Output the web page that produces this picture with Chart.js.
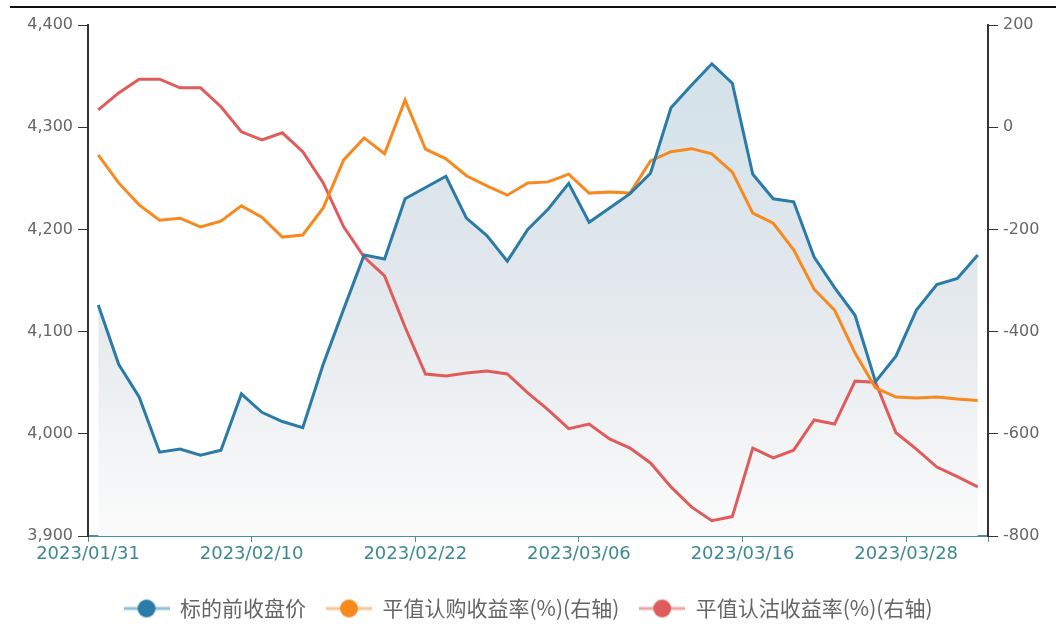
<!DOCTYPE html>
<html>
<head>
<meta charset="utf-8">
<script src="https://cdn.jsdelivr.net/npm/chart.js@4"></script>
<style>
    html, body { margin: 0; padding: 0; background: #fff; }
    #wrap { position: relative; width: 1056px; height: 641px; }
    #topline { position: absolute; left: 10px; right: 0; top: 6px; height: 2px; background: #111; }
    canvas { position: absolute; left: 0; top: 0; }
</style>
</head>
<body>
<div id="wrap">
    <canvas id="chart" width="1056" height="641"></canvas>
    <div id="topline"></div>
</div>
<script>
const dates = [
    '2023/01/31', '2023/02/01', '2023/02/02', '2023/02/03', '2023/02/06', '2023/02/07', '2023/02/08', '2023/02/09',
    '2023/02/10', '2023/02/13', '2023/02/14', '2023/02/15', '2023/02/16', '2023/02/17', '2023/02/20', '2023/02/21',
    '2023/02/22', '2023/02/23', '2023/02/24', '2023/02/27', '2023/02/28', '2023/03/01', '2023/03/02', '2023/03/03',
    '2023/03/06', '2023/03/07', '2023/03/08', '2023/03/09', '2023/03/10', '2023/03/13', '2023/03/14', '2023/03/15',
    '2023/03/16', '2023/03/17', '2023/03/20', '2023/03/21', '2023/03/22', '2023/03/23', '2023/03/24', '2023/03/27',
    '2023/03/28', '2023/03/29', '2023/03/30', '2023/03/31'
];
const xTickDates = ['2023/01/31', '2023/02/10', '2023/02/22', '2023/03/06', '2023/03/16', '2023/03/28'];

// 标的前收盘价 (left axis)
const closePrice = [4126, 4068, 4036, 3982, 3985, 3979, 3984, 4039, 4021, 4012, 4006, 4068, 4122, 4175, 4171, 4230,
    4241, 4252, 4211, 4194, 4169, 4200, 4220, 4245, 4207, 4221, 4235, 4255, 4319, 4341, 4362, 4343,
    4254, 4230, 4227, 4173, 4143, 4116, 4051, 4076, 4121, 4146, 4152, 4175];
// 平值认购收益率 (right axis)
const callReturn = [-54, -109, -152, -182, -178, -195, -184, -154, -176, -215, -211, -158, -64, -21, -52, 53,
    -43, -62, -95, -115, -133, -109, -107, -92, -129, -127, -129, -66, -48, -42, -52, -88,
    -168, -188, -240, -317, -358, -442, -510, -528, -530, -528, -532, -535];
// 平值认沽收益率 (right axis)
const putReturn = [34, 67, 94, 94, 77, 77, 40, -9, -25, -11, -48, -109, -195, -254, -291, -391,
    -483, -487, -481, -477, -483, -520, -553, -590, -581, -610, -628, -657, -704, -743, -770, -762,
    -628, -647, -632, -573, -581, -497, -499, -598, -630, -665, -684, -704];

const seriesNames = ['标的前收盘价', '平值认购收益率(%)(右轴)', '平值认沽收益率(%)(右轴)'];
const lineColors = ['#2a7ba6', '#f7891f', '#e05c5c'];
const iconLineColors = ['#8fbcd5', '#fbc38c', '#eea3a3'];

function toPoints(values) {
    return values.map((v, i) => ({ x: i, y: v }));
}

function legendIcon(lineColor, dotColor) {
    const c = document.createElement('canvas');
    c.width = 46;
    c.height = 20;
    const g = c.getContext('2d');
    g.strokeStyle = lineColor;
    g.lineWidth = 3;
    g.beginPath();
    g.moveTo(0, 10);
    g.lineTo(46, 10);
    g.stroke();
    g.fillStyle = dotColor;
    g.beginPath();
    g.arc(23, 10, 9, 0, Math.PI * 2);
    g.fill();
    return c;
}

function areaGradient(context) {
    const area = context.chart.chartArea;
    if (!area) return 'rgba(210,225,233,0.8)';
    const grad = context.chart.ctx.createLinearGradient(0, area.top, 0, area.bottom);
    grad.addColorStop(0, 'rgb(208,224,233)');
    grad.addColorStop(0.55, 'rgb(228,233,237)');
    grad.addColorStop(1, 'rgb(251,251,251)');
    return grad;
}

// keep the legend box at a fixed height
const legendHeightPlugin = {
    id: 'legendHeight',
    afterInit(chart) {
        const lg = chart.legend;
        const origFit = lg.fit;
        lg.fit = function () {
            origFit.call(this);
            this.height = 63;
        };
    }
};

const tickFont = { family: 'DejaVu Sans', size: 16 };

const ctx = document.getElementById('chart').getContext('2d');
new Chart(ctx, {
    type: 'line',
    data: {
        datasets: [
            {
                label: seriesNames[0],
                data: toPoints(closePrice),
                yAxisID: 'yLeft',
                borderColor: lineColors[0],
                backgroundColor: areaGradient,
                fill: 'start',
                borderWidth: 3,
                pointRadius: 0,
                pointStyle: legendIcon(iconLineColors[0], lineColors[0])
            },
            {
                label: seriesNames[1],
                data: toPoints(callReturn),
                yAxisID: 'yRight',
                borderColor: lineColors[1],
                backgroundColor: lineColors[1],
                fill: false,
                borderWidth: 3,
                pointRadius: 0,
                pointStyle: legendIcon(iconLineColors[1], lineColors[1])
            },
            {
                label: seriesNames[2],
                data: toPoints(putReturn),
                yAxisID: 'yRight',
                borderColor: lineColors[2],
                backgroundColor: lineColors[2],
                fill: false,
                borderWidth: 3,
                pointRadius: 0,
                pointStyle: legendIcon(iconLineColors[2], lineColors[2])
            }
        ]
    },
    options: {
        responsive: false,
        animation: false,
        layout: { padding: { top: 25, left: 0, right: 0, bottom: 0 } },
        plugins: {
            filler: { drawTime: 'beforeDatasetsDraw' },
            tooltip: { enabled: false },
            legend: {
                position: 'bottom',
                labels: {
                    usePointStyle: true,
                    pointStyleWidth: 46,
                    boxHeight: 20,
                    padding: 20,
                    color: '#666',
                    font: { family: 'Noto Sans CJK SC', size: 21 }
                }
            }
        },
        scales: {
            x: {
                type: 'linear',
                min: -0.5,
                max: dates.length - 0.5,
                afterBuildTicks: (scale) => {
                    const t = xTickDates.map(d => ({ value: dates.indexOf(d) - 0.5 }));
                    t.push({ value: dates.length - 0.5 });
                    scale.ticks = t;
                },
                afterFit: (scale) => { scale.height = 42; },
                grid: { drawOnChartArea: false, drawTicks: true, tickLength: 6, color: '#4a9197' },
                border: { color: '#4a9197', width: 2 },
                ticks: {
                    autoSkip: false,
                    maxRotation: 0,
                    padding: 2,
                    color: '#3d8891',
                    font: { family: 'DejaVu Sans', size: 18 },
                    callback: (v) => {
                        const i = Math.round(v + 0.5);
                        return i < dates.length ? dates[i] : '';
                    }
                }
            },
            yLeft: {
                position: 'left',
                min: 3900,
                max: 4400,
                afterFit: (scale) => { scale.width = 88; },
                grid: { drawOnChartArea: false, drawTicks: true, tickLength: 10, color: '#333' },
                border: { color: '#333', width: 2 },
                ticks: {
                    stepSize: 100,
                    padding: 5,
                    color: '#666',
                    font: tickFont,
                    callback: (v) => v.toLocaleString('en-US')
                }
            },
            yRight: {
                position: 'right',
                min: -800,
                max: 200,
                afterFit: (scale) => { scale.width = 68; },
                grid: { drawOnChartArea: false, drawTicks: true, tickLength: 10, color: '#333' },
                border: { color: '#333', width: 2 },
                ticks: {
                    stepSize: 200,
                    padding: 5,
                    color: '#666',
                    font: tickFont
                }
            }
        }
    },
    plugins: [legendHeightPlugin]
});
</script>
</body>
</html>
